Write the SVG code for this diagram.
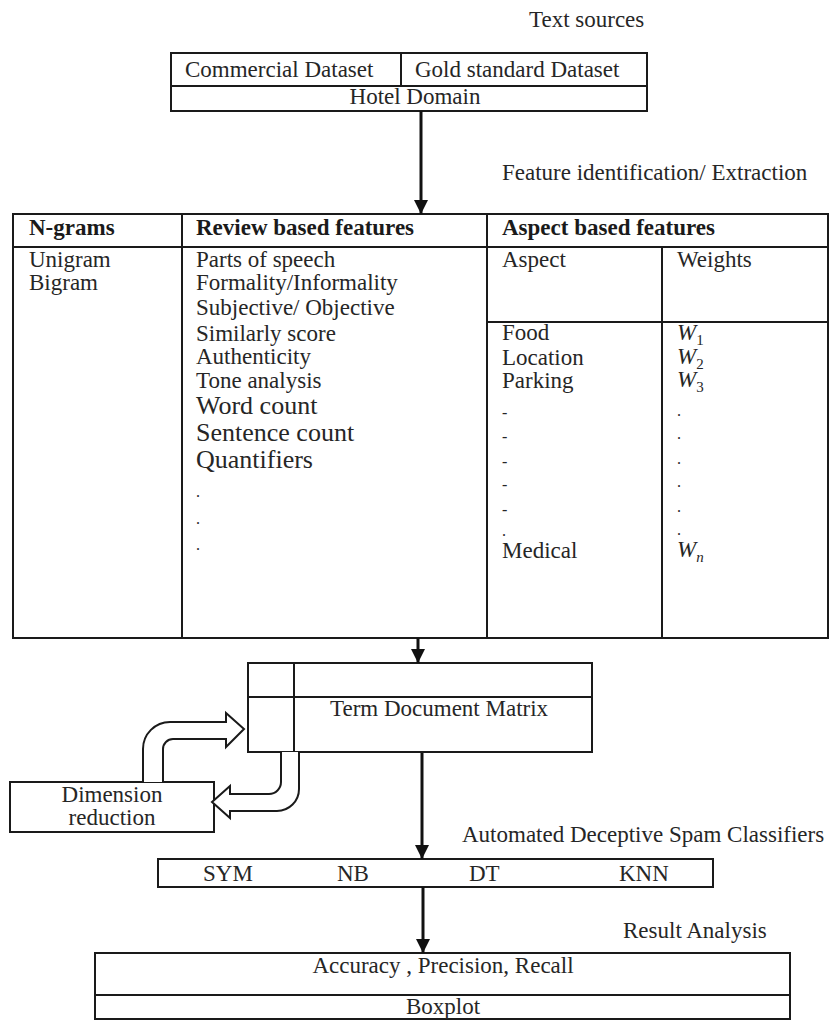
<svg xmlns="http://www.w3.org/2000/svg" width="834" height="1021" viewBox="0 0 834 1021">
<style>
.t{font-family:"Liberation Serif","Times New Roman",serif;font-size:23px;fill:#262626}
.b{font-weight:bold;fill:#1a1a1a}
.l{font-size:26px}
.s{font-size:16px}
.m{text-anchor:middle}
.i{font-style:italic}
.box{fill:none;stroke:#1a1a1a;stroke-width:2}
.ln{stroke:#1a1a1a;stroke-width:2;fill:none}
.arr{stroke:#111;stroke-width:3;fill:none;marker-end:url(#ah)}
.blk{fill:#fff;stroke:#1a1a1a;stroke-width:2;stroke-linejoin:miter}
</style>
<defs>
<marker id="ah" markerUnits="userSpaceOnUse" markerWidth="16" markerHeight="16" refX="14" refY="7" orient="auto">
<path d="M0,0 L14,7 L0,14 Z" fill="#111"/>
</marker>
</defs>
<rect width="834" height="1021" fill="#fff"/>

<text class="t" x="529" y="27">Text sources</text>
<text class="t" x="502" y="180">Feature identification/ Extraction</text>
<text class="t" x="462" y="842">Automated Deceptive Spam Classifiers</text>
<text class="t" x="623" y="938">Result Analysis</text>

<g id="text-sources">
<rect class="box" x="171" y="53" width="476" height="58"/>
<line class="ln" x1="171" y1="86" x2="647" y2="86"/>
<line class="ln" x1="401" y1="53" x2="401" y2="86"/>
<text class="t" x="185" y="77">Commercial Dataset</text>
<text class="t" x="415" y="77">Gold standard Dataset</text>
<text class="t m" x="415" y="104">Hotel Domain</text>
</g>

<g id="feature-table">
<rect class="box" x="13" y="214" width="815" height="424"/>
<line class="ln" x1="13" y1="247" x2="828" y2="247"/>
<line class="ln" x1="182" y1="214" x2="182" y2="638"/>
<line class="ln" x1="487" y1="214" x2="487" y2="638"/>
<line class="ln" x1="662" y1="247" x2="662" y2="638"/>
<line class="ln" x1="487" y1="322" x2="828" y2="322"/>
<text class="t b" x="29" y="235">N-grams</text>
<text class="t b" x="196" y="235">Review based features</text>
<text class="t b" x="502" y="235">Aspect based features</text>
<text class="t" x="29" y="267">Unigram</text>
<text class="t" x="29" y="290">Bigram</text>
<text class="t" x="196" y="267">Parts of speech</text>
<text class="t" x="196" y="290">Formality/Informality</text>
<text class="t" x="196" y="315">Subjective/ Objective</text>
<text class="t" x="196" y="341">Similarly score</text>
<text class="t" x="196" y="364">Authenticity</text>
<text class="t" x="196" y="388">Tone analysis</text>
<text class="t l" x="196" y="414">Word count</text>
<text class="t l" x="196" y="441">Sentence count</text>
<text class="t l" x="196" y="468">Quantifiers</text>
<text class="t s" x="196" y="497">.</text>
<text class="t s" x="196" y="524">.</text>
<text class="t s" x="196" y="550">.</text>
<text class="t" x="502" y="267">Aspect</text>
<text class="t" x="677" y="267">Weights</text>
<text class="t" x="502" y="340">Food</text>
<text class="t" x="502" y="365">Location</text>
<text class="t" x="502" y="388">Parking</text>
<text class="t s" x="502" y="418">-</text>
<text class="t s" x="502" y="442">-</text>
<text class="t s" x="502" y="467">-</text>
<text class="t s" x="502" y="490">-</text>
<text class="t s" x="502" y="515">-</text>
<text class="t s" x="502" y="536">.</text>
<text class="t" x="502" y="558">Medical</text>
<text class="t" x="677" y="340"><tspan class="i">W</tspan><tspan font-size="15" dy="5">1</tspan></text>
<text class="t" x="677" y="364"><tspan class="i">W</tspan><tspan font-size="15" dy="5">2</tspan></text>
<text class="t" x="677" y="387"><tspan class="i">W</tspan><tspan font-size="15" dy="5">3</tspan></text>
<text class="t s" x="677" y="416">.</text>
<text class="t s" x="677" y="439">.</text>
<text class="t s" x="677" y="464">.</text>
<text class="t s" x="677" y="487">.</text>
<text class="t s" x="677" y="512">.</text>
<text class="t s" x="677" y="535">.</text>
<text class="t" x="677" y="557"><tspan class="i">W</tspan><tspan font-size="15" dy="5" class="i">n</tspan></text>
</g>

<g id="term-document-matrix">
<rect class="box" x="248" y="663" width="344" height="89"/>
<line class="ln" x1="248" y1="697" x2="592" y2="697"/>
<line class="ln" x1="294" y1="663" x2="294" y2="752"/>
<text class="t" x="330" y="716">Term Document Matrix</text>
</g>

<g id="dimension-reduction">
<rect class="box" x="10" y="782" width="204" height="50"/>
<text class="t m" x="112" y="802">Dimension</text>
<text class="t m" x="112" y="825">reduction</text>
</g>

<g id="classifiers">
<rect class="box" x="158" y="859" width="555" height="28"/>
<text class="t" x="203" y="881">SYM</text>
<text class="t" x="337" y="881">NB</text>
<text class="t" x="469" y="881">DT</text>
<text class="t" x="619" y="881">KNN</text>
</g>

<g id="result-analysis">
<rect class="box" x="95" y="953" width="695" height="66"/>
<line class="ln" x1="95" y1="995" x2="790" y2="995"/>
<text class="t m" x="443" y="973">Accuracy , Precision, Recall</text>
<text class="t m" x="443" y="1014">Boxplot</text>
</g>

<g id="connectors">
<line class="arr" x1="421" y1="111" x2="421" y2="214"/>
<line class="arr" x1="418" y1="638" x2="418" y2="663"/>
<line class="arr" x1="422" y1="753" x2="422" y2="859"/>
<line class="arr" x1="423" y1="887" x2="423" y2="953"/>
<path class="blk" d="M143,782 V749 A27,27 0 0 1 170,722 H226 V713 L244,729 L226,747 V739 H173 A10,10 0 0 0 163,749 V782"/>
<path class="blk" d="M281,752 V782 A12,12 0 0 1 269,794 H230 V786 L212,802 L230,818 V811 H277 A22,22 0 0 0 299,789 V752"/>
</g>
</svg>
